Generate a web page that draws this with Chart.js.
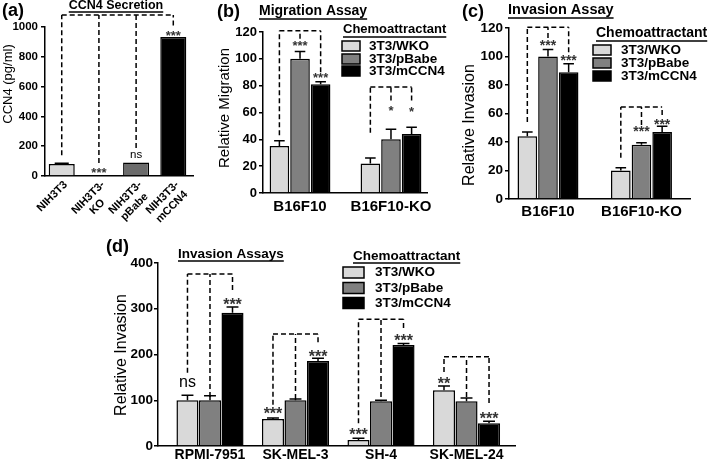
<!DOCTYPE html>
<html><head><meta charset="utf-8">
<script src="https://cdn.jsdelivr.net/npm/chart.js@4"></script>
<style>
html,body{margin:0;padding:0;background:#fff;}
#wrap{position:relative;width:708px;height:462px;overflow:hidden;background:#fff;}
canvas{position:absolute;left:0;top:0;}
</style></head><body>
<div id="wrap">
<canvas id="pa" width="708" height="462"></canvas>
<canvas id="pb" width="708" height="462"></canvas>
<canvas id="pc" width="708" height="462"></canvas>
<canvas id="pd" width="708" height="462"></canvas>
</div>
<script>
// ─── DATA ────────────────────────────────────────────────────────────────────
const seriesNames=['3T3/WKO','3T3/pBabe','3T3/mCCN4'];

// (a) CCN4 secretion
const secCats=['NIH3T3',['NIH3T3-','KO'],['NIH3T3-','pBabe'],['NIH3T3-','mCCN4']];
const secVals=[80,5,90,933];
const secErr=[5,0,0,0];
const secTicks=[0,200,400,600,800,1000];
const secBrackets=[{level:1080,legs:[[0,0,140],[1,0,88],[2,0,188],[3,0,1010]]}];
const secMarks=[[1,0,'***',47],[2,0,'ns',141],[3,0,'***',965]];

// (b) migration
const migCats=['B16F10','B16F10-KO'];
const migWKO=[35,22],   migWKOErr=[4,4];
const migPBabe=[100,40],migPBabeErr=[5.5,7.5];
const migMCCN4=[81,44], migMCCN4Err=[2,5];
const migTicks=[0,20,40,60,80,100,120];
const migBrackets=[{level:121,legs:[[0,0,43],[0,1,115],[0,2,90]]},{level:79,legs:[[1,0,45],[1,1,69],[1,2,69]]}];
const migMarks=[[0,1,'***',112],[0,2,'***',88],[1,1,'*',64],[1,2,'*',63]];

// (c) invasion
const invCats=['B16F10','B16F10-KO'];
const invWKO=[44,20],   invWKOErr=[3,2];
const invPBabe=[100,38],invPBabeErr=[5,1.5];
const invMCCN4=[89,47], invMCCN4Err=[6,4];
const invTicks=[0,20,40,60,80,100,120];
const invBrackets=[{level:120.5,legs:[[0,0,54],[0,1,113],[0,2,103]]},{level:64.5,legs:[[1,0,29],[1,1,52],[1,2,59]]}];
const invMarks=[[0,1,'***',110],[0,2,'***',100],[1,1,'***',50],[1,2,'***',55]];

// (d) invasion, human lines
const melCats=['RPMI-7951','SK-MEL-3','SH-4','SK-MEL-24'];
const melWKO=[100,59,13,122],  melWKOErr=[11,2,4,9];
const melPBabe=[100,100,98,98],melPBabeErr=[10,3,2,7];
const melMCCN4=[291,186,221,50],melMCCN4Err=[13,6,3,4];
const melTicks=[0,100,200,300,400];
const melBrackets=[
  {level:376,legs:[[0,0,160],[0,1,107],[0,2,341]]},
  {level:245,legs:[[1,0,90],[1,1,103],[1,2,227]]},
  {level:277,legs:[[2,0,50],[2,1,107],[2,2,258]]},
  {level:195,legs:[[3,0,162],[3,1,107],[3,2,94]]}];
const melMarks=[[0,0,'ns',138],[0,2,'***',317],[1,0,'***',79],[1,2,'***',203],[2,0,'***',33],[2,2,'***',238],[3,0,'**',144],[3,2,'***',68]];

// ─── STYLE ───────────────────────────────────────────────────────────────────
const FONT='Arial, "Liberation Sans", sans-serif';
const serColors=['#d9d9d9','#808080','#000000'];
const secColors=['#d9d9d9','#9a9a9a','#6b6b6b','#000000'];

function drawText(ctx,t){
  ctx.save();
  ctx.font=t.font+' '+FONT; ctx.fillStyle='#000'; ctx.textBaseline='middle'; ctx.textAlign=t.align||'left';
  ctx.translate(t.x,t.y); if(t.rot) ctx.rotate(-Math.PI/2);
  ctx.fillText(t.t,0,0);
  if(t.ul){const w=ctx.measureText(t.t).width, x0=t.align==='center'?-w/2:0;
    ctx.lineWidth=1.3; ctx.strokeStyle='#000'; ctx.beginPath(); ctx.moveTo(x0,t.ul); ctx.lineTo(x0+w,t.ul); ctx.stroke();}
  ctx.restore();
}

function extras(o){
  return {id:'extras',afterDraw(chart){
    const ctx=chart.ctx, ys=chart.scales.y, xs=chart.scales.x;
    ctx.save();
    // error bars
    ctx.strokeStyle='#000'; ctx.lineWidth=1.5;
    o.errs.forEach((arr,d)=>{chart.getDatasetMeta(d).data.forEach((el,i)=>{
      const e=arr[i]; if(!e) return;
      const top=ys.getPixelForValue(chart.data.datasets[d].data[i]+e), hw=el.width*0.27;
      ctx.beginPath(); ctx.moveTo(el.x,el.y); ctx.lineTo(el.x,top); ctx.moveTo(el.x-hw,top); ctx.lineTo(el.x+hw,top); ctx.stroke();});});
    // significance brackets
    ctx.setLineDash([5,3]); ctx.lineWidth=1.5;
    o.brackets.forEach(b=>{const yl=ys.getPixelForValue(b.level), px=[];
      ctx.beginPath();
      b.legs.forEach(([c,d,bot])=>{const el=chart.getDatasetMeta(d).data[c]; px.push(el.x);
        ctx.moveTo(el.x,ys.getPixelForValue(bot)); ctx.lineTo(el.x,yl);});
      ctx.moveTo(Math.min(...px),yl); ctx.lineTo(Math.max(...px),yl); ctx.stroke();});
    ctx.setLineDash([]);
    // stars / ns
    o.marks.forEach(([c,d,t,v])=>{const el=chart.getDatasetMeta(d).data[c], y=ys.getPixelForValue(v);
      const star=t.includes('*'), sz=star?o.starSize:o.nsSize;
      ctx.font=(star?'bold ':'')+sz+'px '+FONT; ctx.fillStyle=star?'#333':'#000'; ctx.textAlign='center'; ctx.textBaseline='alphabetic';
      ctx.fillText(t,el.x,y+sz*(star?0.58:0.27));});
    // rotated, centred category labels (panel a)
    if(o.rotLabels){
      ctx.font='bold '+o.xFont+'px '+FONT; ctx.fillStyle='#000'; ctx.textBaseline='middle';
      o.cats.forEach((c,i)=>{const lines=[].concat(c);
        ctx.save(); ctx.translate(xs.getPixelForValue(i+1)+4,xs.top+7); ctx.rotate(-Math.PI/4);
        const w0=ctx.measureText(lines[0]).width;
        lines.forEach((ln,k)=>{ if(k===0){ctx.textAlign='right'; ctx.fillText(ln,0,0);}
          else {ctx.textAlign='center'; ctx.fillText(ln,-w0/2,k*13);} });
        ctx.restore();});
    }
    // headers
    o.texts.forEach(t=>drawText(ctx,t));
    // legend
    const L=o.legend;
    if(L){
      drawText(ctx,{t:'Chemoattractant',x:L.tx,y:L.ty,font:L.tf,ul:L.ul});
      chart.data.datasets.forEach((ds,i)=>{const y=L.rows[i];
        ctx.fillStyle=ds.backgroundColor; ctx.fillRect(L.bx,y-L.bh/2,L.bw,L.bh);
        ctx.strokeStyle='#000'; ctx.lineWidth=1.5; ctx.strokeRect(L.bx,y-L.bh/2,L.bw,L.bh);
        drawText(ctx,{t:ds.label,x:L.lx,y:y,font:L.lf});});
    }
    ctx.restore();
  }};
}

function panel(id,o){
  const cats=o.cats;
  return new Chart(document.getElementById(id),{
    type:'bar',
    data:{labels:cats.map((c,i)=>i+1),datasets:o.series},
    options:{
      responsive:false,animation:false,events:[],
      layout:{padding:{left:o.area.l-o.yW,right:708-o.area.r,top:o.area.t,bottom:462-o.area.b-o.xH}},
      plugins:{legend:{display:false},tooltip:{enabled:false}},
      datasets:{bar:{categoryPercentage:o.cp,barPercentage:o.bp,borderColor:'#000',borderWidth:1.5}},
      scales:{
        x:{type:'linear',min:o.xMin,max:o.xMax,offset:false,
          grid:{display:false,drawTicks:false},border:{display:true,color:'#000',width:1.5},
          afterBuildTicks:s=>{s.ticks=cats.map((c,i)=>({value:i+1}));},
          afterFit:s=>{s.height=o.xH;},
          ticks:{display:!o.rotLabels,autoSkip:false,maxRotation:0,padding:o.xPad,
            color:'#000',font:{family:FONT,size:o.xFont,weight:'bold'},callback:v=>cats[v-1]}},
        y:{min:0,max:o.ticks[o.ticks.length-1],
          afterBuildTicks:s=>{s.ticks=o.ticks.map(v=>({value:v}));},
          afterFit:s=>{s.width=o.yW;},
          grid:{drawOnChartArea:false,drawTicks:true,tickLength:4,color:'#000',lineWidth:1.5},
          border:{color:'#000',width:1.5},
          ticks:{padding:o.yPad,color:'#000',font:{family:FONT,size:o.yFont,weight:'bold'},callback:v=>String(v)}}
      }
    },
    plugins:[extras(o)]
  });
}

function triple(a,b,c){
  return [a,b,c].map((d,i)=>({label:seriesNames[i],data:d,backgroundColor:serColors[i]}));
}

panel('pa',{cats:secCats,ticks:secTicks,
  series:[{label:'CCN4',data:secVals,backgroundColor:secColors}],
  errs:[secErr],brackets:secBrackets,marks:secMarks,starSize:13,nsSize:11.5,
  area:{l:45,r:193,t:27,b:176},yW:40,xH:40,xMin:0.55,xMax:4.53,cp:0.7,bp:1,
  rotLabels:true,xPad:3,xFont:11,yFont:11.5,yPad:3,
  texts:[{t:'(a)',x:2,y:11,font:'bold 18px'},
    {t:'CCN4 Secretion',x:116,y:6,font:'bold 12.5px',align:'center',ul:6},
    {t:'CCN4 (pg/ml)',x:8,y:84,font:'13px',align:'center',rot:true}]});

panel('pb',{cats:migCats,ticks:migTicks,
  series:triple(migWKO,migPBabe,migMCCN4),
  errs:[migWKOErr,migPBabeErr,migMCCN4Err],brackets:migBrackets,marks:migMarks,starSize:13,nsSize:12,
  area:{l:263,r:427,t:32,b:193},yW:40,xH:25,xMin:0.593,xMax:2.396,cp:0.68,bp:0.95,
  xPad:5,xFont:15,yFont:13,yPad:2,
  texts:[{t:'(b)',x:217,y:12,font:'bold 18px'},
    {t:'Migration Assay',x:259,y:11,font:'bold 14px',ul:8},
    {t:'Relative Migration',x:225,y:108,font:'15px',align:'center',rot:true}],
  legend:{tx:343,ty:29,tf:'bold 13px',ul:8,bx:342,bw:18,bh:10,rows:[46,59,71],lx:369,lf:'bold 13.5px'}});

panel('pc',{cats:invCats,ticks:invTicks,
  series:triple(invWKO,invPBabe,invMCCN4),
  errs:[invWKOErr,invPBabeErr,invMCCN4Err],brackets:invBrackets,marks:invMarks,starSize:14,nsSize:12,
  area:{l:509,r:690,t:28,b:199},yW:40,xH:25,xMin:0.583,xMax:2.519,cp:0.663,bp:0.95,
  xPad:4,xFont:15,yFont:13.5,yPad:2,
  texts:[{t:'(c)',x:462,y:12,font:'bold 18px'},
    {t:'Invasion Assay',x:508,y:10,font:'bold 14.5px',ul:8},
    {t:'Relative Invasion',x:470,y:125,font:'16px',align:'center',rot:true}],
  legend:{tx:596,ty:33,tf:'bold 14px',ul:8,bx:593,bw:18,bh:10,rows:[50,63,76],lx:621,lf:'bold 13.5px'}});

panel('pd',{cats:melCats,ticks:melTicks,
  series:triple(melWKO,melPBabe,melMCCN4),
  errs:[melWKOErr,melPBabeErr,melMCCN4Err],brackets:melBrackets,marks:melMarks,starSize:16,nsSize:16,
  area:{l:158,r:515,t:263,b:446},yW:40,xH:16,xMin:0.392,xMax:4.567,cp:0.79,bp:0.98,
  xPad:1,xFont:14,yFont:13.5,yPad:1,
  texts:[{t:'(d)',x:106,y:247,font:'bold 18px'},
    {t:'Invasion Assays',x:178,y:254,font:'bold 13.5px',ul:7},
    {t:'Relative Invasion',x:122,y:355,font:'16px',align:'center',rot:true}],
  legend:{tx:353,ty:256,tf:'bold 13.5px',ul:7,bx:343,bw:21,bh:11,rows:[272.5,288,303],lx:375,lf:'bold 13.5px'}});
</script>
</body></html>
